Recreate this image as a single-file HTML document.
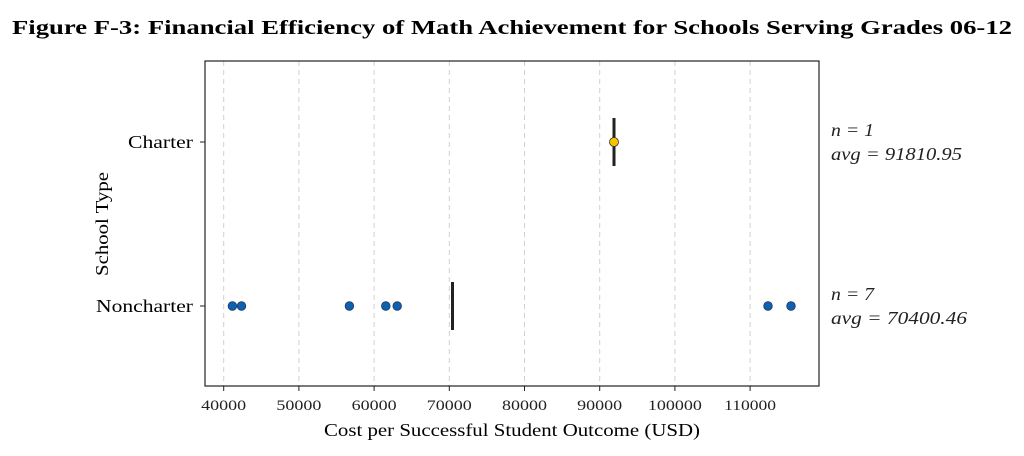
<!DOCTYPE html>
<html><head><meta charset="utf-8"><style>body{margin:0;background:#fff}</style></head><body>
<svg width="1024" height="451" xmlns="http://www.w3.org/2000/svg" font-family="Liberation Serif, serif">
<rect width="1024" height="451" fill="#fff"/>
<text x="512" y="34" text-anchor="middle" font-size="20" font-weight="bold" textLength="1000" lengthAdjust="spacingAndGlyphs">Figure F-3: Financial Efficiency of Math Achievement for Schools Serving Grades 06-12</text>
<g stroke="#d0d0d0" stroke-dasharray="5,4" stroke-width="1">
<line x1="223.7" y1="61" x2="223.7" y2="386"/><line x1="298.9" y1="61" x2="298.9" y2="386"/><line x1="374.1" y1="61" x2="374.1" y2="386"/><line x1="449.3" y1="61" x2="449.3" y2="386"/><line x1="524.5" y1="61" x2="524.5" y2="386"/><line x1="599.7" y1="61" x2="599.7" y2="386"/><line x1="674.9" y1="61" x2="674.9" y2="386"/><line x1="750.1" y1="61" x2="750.1" y2="386"/>
</g>
<rect x="205" y="61" width="614" height="325" fill="none" stroke="#222" stroke-width="1.2"/>
<g stroke="#222"><line x1="200" y1="142" x2="205" y2="142"/><line x1="200" y1="306" x2="205" y2="306"/>
<line x1="223.7" y1="386" x2="223.7" y2="391"/><line x1="298.9" y1="386" x2="298.9" y2="391"/><line x1="374.1" y1="386" x2="374.1" y2="391"/><line x1="449.3" y1="386" x2="449.3" y2="391"/><line x1="524.5" y1="386" x2="524.5" y2="391"/><line x1="599.7" y1="386" x2="599.7" y2="391"/><line x1="674.9" y1="386" x2="674.9" y2="391"/><line x1="750.1" y1="386" x2="750.1" y2="391"/></g>
<g font-size="15" text-anchor="middle" fill="#222">
<text x="223.7" y="410" textLength="45" lengthAdjust="spacingAndGlyphs">40000</text><text x="298.9" y="410" textLength="45" lengthAdjust="spacingAndGlyphs">50000</text><text x="374.1" y="410" textLength="45" lengthAdjust="spacingAndGlyphs">60000</text><text x="449.3" y="410" textLength="45" lengthAdjust="spacingAndGlyphs">70000</text><text x="524.5" y="410" textLength="45" lengthAdjust="spacingAndGlyphs">80000</text><text x="599.7" y="410" textLength="45" lengthAdjust="spacingAndGlyphs">90000</text><text x="674.9" y="410" textLength="54" lengthAdjust="spacingAndGlyphs">100000</text><text x="750.1" y="410" textLength="52" lengthAdjust="spacingAndGlyphs">110000</text>
</g>
<text x="512" y="436" text-anchor="middle" font-size="18" textLength="376" lengthAdjust="spacingAndGlyphs">Cost per Successful Student Outcome (USD)</text>
<text x="193" y="148" text-anchor="end" font-size="18" textLength="65" lengthAdjust="spacingAndGlyphs">Charter</text>
<text x="193" y="312" text-anchor="end" font-size="18" textLength="97" lengthAdjust="spacingAndGlyphs">Noncharter</text>
<text transform="translate(108,224) rotate(-90)" text-anchor="middle" font-size="18" textLength="104" lengthAdjust="spacingAndGlyphs">School Type</text>
<line x1="614" y1="118" x2="614" y2="166" stroke="#222" stroke-width="3"/>
<line x1="452.5" y1="282" x2="452.5" y2="330" stroke="#222" stroke-width="3"/>
<circle cx="614" cy="142" r="4.5" fill="#f5c400" stroke="#333" stroke-width="0.8"/>
<g fill="#1060b0" stroke="#1a3a66" stroke-width="0.8">
<circle cx="232.4" cy="306" r="4.3"/><circle cx="241.5" cy="306" r="4.3"/><circle cx="349.4" cy="306" r="4.3"/><circle cx="385.8" cy="306" r="4.3"/><circle cx="397.2" cy="306" r="4.3"/><circle cx="768" cy="306" r="4.3"/><circle cx="791" cy="306" r="4.3"/>
</g>
<g font-size="18" font-style="italic" fill="#222">
<text x="831" y="136" textLength="43" lengthAdjust="spacingAndGlyphs">n = 1</text><text x="831" y="160" textLength="131" lengthAdjust="spacingAndGlyphs">avg = 91810.95</text>
<text x="831" y="300" textLength="43" lengthAdjust="spacingAndGlyphs">n = 7</text><text x="831" y="324" textLength="136" lengthAdjust="spacingAndGlyphs">avg = 70400.46</text>
</g>
</svg>
</body></html>
